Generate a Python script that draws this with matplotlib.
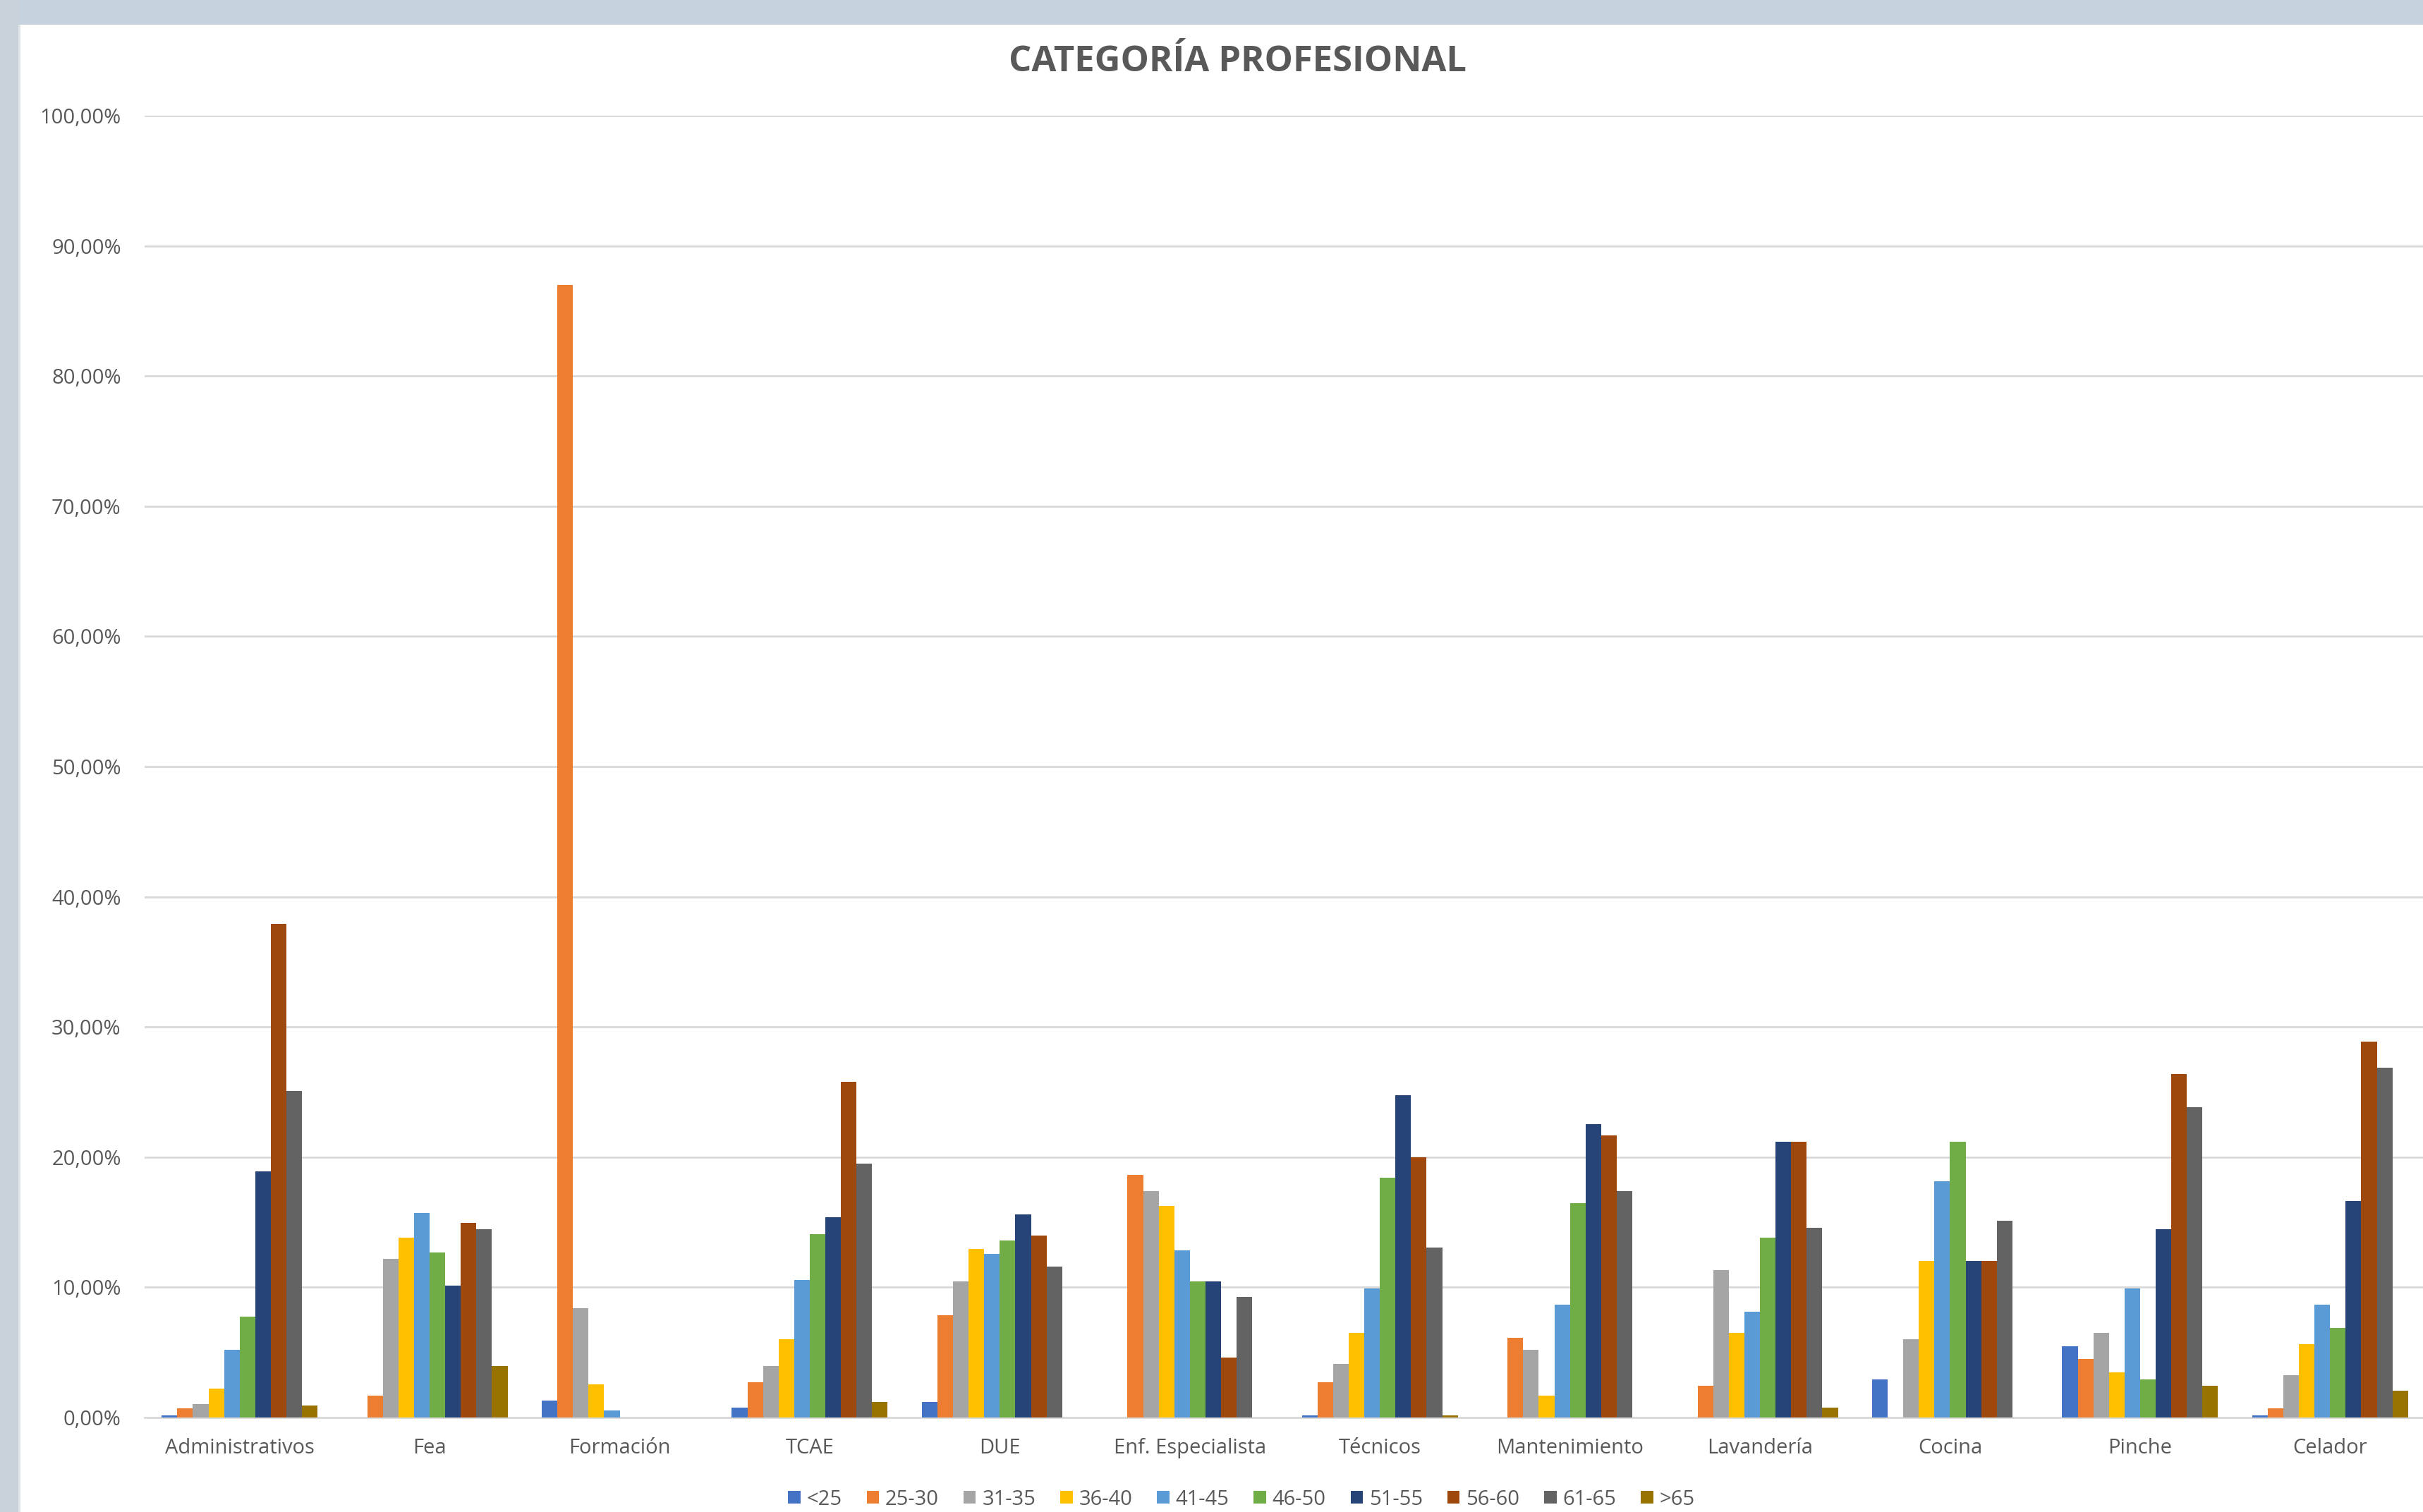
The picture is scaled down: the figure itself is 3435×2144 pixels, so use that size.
import matplotlib
matplotlib.use('Agg')
import matplotlib.pyplot as plt
from matplotlib.patches import Rectangle
from matplotlib.ticker import FuncFormatter, MultipleLocator
import numpy as np

# Categorías profesionales y grupos de edad
categorias = ['Administrativos', 'Fea', 'Formación', 'TCAE', 'DUE', 'Enf. Especialista',
              'Técnicos', 'Mantenimiento', 'Lavandería', 'Cocina', 'Pinche', 'Celador']
edades = ['<25', '25-30', '31-35', '36-40', '41-45', '46-50', '51-55', '56-60', '61-65', '>65']

# Porcentajes (%) por grupo de edad, un valor por categoría
v_menos25 = [0.15, 0.0, 1.30, 0.78, 1.18, 0.0, 0.15, 0.0, 0.0, 2.95, 5.49, 0.15]
v_25_30 = [0.68, 1.68, 87.0, 2.70, 7.88, 18.65, 2.70, 6.11, 2.45, 0.0, 4.47, 0.68]
v_31_35 = [1.05, 12.20, 8.40, 3.97, 10.43, 17.38, 4.10, 5.21, 11.30, 5.99, 6.52, 3.23]
v_36_40 = [2.20, 13.84, 2.54, 5.99, 12.94, 16.26, 6.52, 1.68, 6.52, 12.04, 3.44, 5.62]
v_41_45 = [5.20, 15.73, 0.56, 10.55, 12.57, 12.85, 9.93, 8.66, 8.13, 18.15, 9.93, 8.66]
v_46_50 = [7.76, 12.69, 0.0, 14.09, 13.59, 10.43, 18.40, 16.48, 13.84, 21.16, 2.95, 6.89]
v_51_55 = [18.90, 10.15, 0.0, 15.36, 15.61, 10.43, 24.73, 22.56, 21.16, 12.04, 14.49, 16.63]
v_56_60 = [37.90, 14.96, 0.0, 25.76, 13.96, 4.59, 20.00, 21.69, 21.16, 12.04, 26.38, 28.89]
v_61_65 = [25.10, 14.49, 0.0, 19.52, 11.57, 9.28, 13.08, 17.38, 14.58, 15.11, 23.83, 26.87]
v_mas65 = [0.93, 3.97, 0.0, 1.18, 0.0, 0.0, 0.15, 0.0, 0.78, 0.0, 2.45, 2.08]

series = [v_menos25, v_25_30, v_31_35, v_36_40, v_41_45, v_46_50, v_51_55, v_56_60, v_61_65, v_mas65]
colores = ['#4472C4', '#ED7D31', '#A5A5A5', '#FFC000', '#5B9BD5',
           '#70AD47', '#264478', '#9E480E', '#636363', '#997300']

gris_texto = '#595959'
fuente = 'Open Sans'

fig = plt.figure(figsize=(34.35, 21.44), dpi=100)
fig.patch.set_facecolor('white')

# Marco de la captura (barra superior e izquierda)
fig.patches.append(Rectangle((0, 1 - 35 / 2144), 1, 35 / 2144, transform=fig.transFigure,
                             facecolor='#C6D3DE', edgecolor='none', zorder=0))
fig.patches.append(Rectangle((0, 0), 26 / 3435, 1, transform=fig.transFigure,
                             facecolor='#C9D2DA', edgecolor='none', zorder=0))
fig.patches.append(Rectangle((26 / 3435, 0), 3 / 3435, 1 - 35 / 2144, transform=fig.transFigure,
                             facecolor='#E2E5E8', edgecolor='none', zorder=0))

ax = fig.add_axes([205 / 3435, 134 / 2144, 3233 / 3435, 1846 / 2144])

x = np.arange(len(categorias))
ancho = 0.082
for i, (edad, vals) in enumerate(zip(edades, series)):
    ax.bar(x + (i - 4.5) * ancho, np.array(vals) / 100, ancho, color=colores[i],
           label=edad, zorder=3)

ax.set_xlim(-0.5, len(categorias) - 0.5)
ax.set_ylim(0, 1)
ax.yaxis.set_major_locator(MultipleLocator(0.1))
ax.yaxis.set_major_formatter(FuncFormatter(lambda v, p: f'{v * 100:.2f}%'.replace('.', ',')))
ax.grid(axis='y', color='#D9D9D9', linewidth=2, zorder=0)
ax.set_axisbelow(True)

for lado in ['top', 'right', 'left']:
    ax.spines[lado].set_visible(False)
ax.spines['bottom'].set_color('#D9D9D9')
ax.spines['bottom'].set_linewidth(2)

ax.set_xticks(x)
ax.set_xticklabels(categorias)
ax.tick_params(axis='both', length=0, labelcolor=gris_texto, labelsize=21)
ax.tick_params(axis='y', pad=24)
ax.tick_params(axis='x', pad=21)
for t in ax.get_xticklabels() + ax.get_yticklabels():
    t.set_fontfamily(fuente)

fig.text(1754 / 3435, 1 - 88 / 2144, 'CATEGORÍA PROFESIONAL', ha='center', va='center',
         fontsize=36.5, fontweight='bold', color=gris_texto, fontfamily=fuente)

leg = fig.legend(loc='center', bbox_to_anchor=(1760 / 3435, 1 - 2126 / 2144), ncol=10,
                 frameon=False, handlelength=0.6, handleheight=0.6,
                 handletextpad=0.3, columnspacing=1.2, prop={'family': fuente, 'size': 21})
for t in leg.get_texts():
    t.set_color(gris_texto)

fig.savefig('out.png', dpi=100)
